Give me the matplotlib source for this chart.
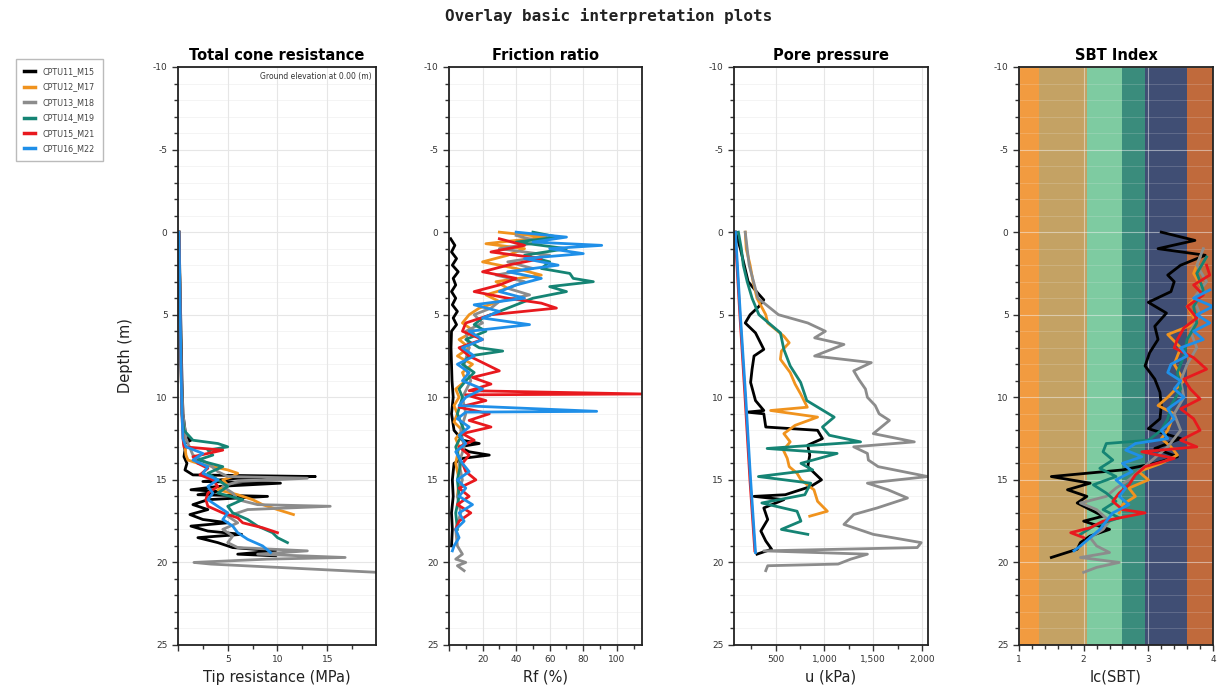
import numpy as np
import matplotlib
matplotlib.use("Agg")
import matplotlib.pyplot as plt
from matplotlib.ticker import MultipleLocator, FuncFormatter

plt.rcParams["axes.unicode_minus"] = False

# soundings and colours
names = ["CPTU11_M15", "CPTU12_M17", "CPTU13_M18", "CPTU14_M19", "CPTU15_M21", "CPTU16_M22"]
colors = ["#000000", "#F0931E", "#8C8C8C", "#158474", "#E8191E", "#1F8FE8"]

# total cone resistance (MPa)
qt_d_11 = [0, 3, 6, 9, 11, 12.4, 12.6, 12.8, 13.2, 13.6, 14.0, 14.4, 14.7, 14.8, 14.9, 15.1, 15.2, 15.4, 15.6, 15.7, 15.9, 16.0, 16.2, 16.5, 16.8, 17.1, 17.4, 17.6, 17.8, 18.1, 18.3, 18.5, 18.8, 19.1, 19.3, 19.5, 19.6]
qt_11 = [0.1, 0.2, 0.3, 0.4, 0.5, 0.8, 1.3, 0.6, 0.7, 0.6, 0.9, 0.7, 1.5, 13.8, 6.0, 2.5, 10.3, 4.0, 1.3, 4.1, 2.0, 9.0, 3.0, 1.5, 3.0, 1.2, 2.5, 5.0, 1.3, 3.0, 6.4, 2.0, 4.0, 5.5, 9.8, 6.0, 9.8]
qt_d_12 = [0, 4, 8, 11, 12.5, 13.0, 13.5, 13.8, 14.0, 14.2, 14.4, 14.6, 14.8, 15.0, 15.3, 15.6, 15.9, 16.2, 16.5, 16.8, 17.1]
qt_12 = [0.1, 0.2, 0.3, 0.4, 0.6, 0.7, 0.8, 1.0, 2.0, 3.5, 5.0, 6.0, 5.5, 4.5, 5.0, 4.0, 6.0, 7.5, 8.5, 10.0, 11.6]
qt_d_13 = [0, 4, 8, 11, 12.5, 13.5, 14.0, 14.5, 14.8, 14.9, 15.1, 15.4, 15.8, 16.2, 16.5, 16.6, 16.8, 17.2, 17.6, 18.0, 18.4, 18.8, 19.1, 19.3, 19.5, 19.7, 19.8, 20.0, 20.1, 20.3, 20.6]
qt_13 = [0.1, 0.2, 0.3, 0.5, 0.8, 1.5, 3.0, 4.0, 5.0, 13.0, 6.0, 4.5, 5.5, 6.0, 8.0, 15.3, 7.0, 5.0, 6.0, 4.5, 5.5, 5.0, 6.0, 13.0, 8.0, 16.8, 9.0, 1.6, 3.3, 10.0, 20.0]
qt_d_14 = [0, 4, 8, 11, 12.0, 12.6, 12.8, 13.0, 13.2, 13.5, 13.8, 14.2, 14.6, 15.0, 15.4, 15.8, 16.2, 16.6, 17.0, 17.4, 17.8, 18.2, 18.5, 18.8]
qt_14 = [0.1, 0.2, 0.3, 0.4, 0.6, 1.5, 4.0, 5.0, 3.0, 3.5, 2.0, 4.5, 3.0, 4.0, 5.0, 4.0, 6.5, 5.0, 5.5, 7.0, 8.0, 9.5, 10.0, 11.0]
qt_d_15 = [0, 4, 8, 11, 12.5, 13.0, 13.2, 13.6, 14.0, 14.3, 14.7, 15.0, 15.4, 15.8, 16.2, 16.6, 17.0, 17.3, 17.6, 17.9, 18.2]
qt_15 = [0.1, 0.2, 0.3, 0.4, 0.5, 0.6, 4.5, 1.5, 2.0, 3.0, 2.2, 3.5, 4.0, 3.0, 2.8, 3.0, 4.5, 6.0, 6.5, 8.5, 10.0]
qt_d_16 = [0, 4, 8, 11, 12.5, 13.0, 13.4, 13.8, 14.2, 14.6, 15.0, 15.4, 15.8, 16.2, 16.6, 17.0, 17.4, 17.8, 18.2, 18.6, 19.0, 19.4]
qt_16 = [0.1, 0.2, 0.3, 0.4, 0.5, 0.8, 2.5, 1.5, 3.0, 2.5, 4.0, 3.0, 3.5, 3.0, 4.0, 5.0, 4.5, 5.5, 6.0, 7.0, 8.5, 9.3]

# friction ratio (%)
rf_d_11 = [0.4, 0.8, 1.2, 1.6, 2.0, 2.4, 2.8, 3.2, 3.6, 4.0, 4.4, 4.8, 5.2, 5.6, 6.0, 7, 8, 9, 10, 11, 12, 12.6, 12.8, 13.0, 13.3, 13.5, 13.7, 14, 15, 16, 17, 18, 19]
rf_11 = [1.0, 3.5, 1.5, 4.5, 2.0, 5.5, 2.5, 4.0, 1.5, 4.0, 2.0, 5.0, 2.5, 4.5, 1.5, 1.2, 1.5, 1.8, 2.5, 1.5, 3.0, 8.0, 18.0, 6.0, 12.0, 24.0, 8.0, 3.0, 2.0, 2.5, 1.5, 2.0, 1.5]
rf_d_12 = [0, 0.3, 0.7, 1.0, 1.4, 1.8, 2.2, 2.6, 3.0, 3.4, 3.8, 4.2, 4.6, 5.0, 5.5, 6.0, 6.5, 7.0, 7.5, 8.0, 8.5, 9.0, 9.5, 10.0, 10.5, 11.0, 11.5, 12.0, 12.5, 13.0, 13.5, 14, 15, 16]
rf_12 = [30, 58, 22, 45, 35, 20, 40, 55, 28, 35, 22, 30, 18, 12, 8, 15, 6, 12, 5, 14, 8, 10, 4, 6, 3, 5, 3, 8, 4, 6, 5, 4, 6, 5]
rf_d_13 = [0.2, 0.6, 1.0, 1.4, 1.8, 2.2, 2.6, 3.0, 3.4, 3.8, 4.2, 4.6, 5.0, 5.5, 6.0, 7.0, 8.0, 9.0, 10.0, 11.0, 12.0, 13.0, 14.0, 15.0, 16.0, 17.0, 18.0, 19.0, 19.5, 19.8, 20.0, 20.2, 20.5]
rf_13 = [40, 55, 30, 60, 35, 50, 28, 45, 35, 48, 30, 25, 15, 20, 10, 12, 9, 13, 8, 10, 7, 9, 6, 8, 5, 7, 4, 5, 8, 4, 10, 5, 9]
rf_d_14 = [0, 0.3, 0.6, 1.0, 1.4, 1.8, 2.2, 2.5, 2.8, 3.0, 3.3, 3.6, 4.0, 4.4, 4.8, 5.2, 5.6, 6.0, 6.5, 7.0, 7.2, 7.5, 8.0, 8.5, 9.0, 9.5, 10, 11, 12, 13, 14, 15, 16, 17, 18]
rf_14 = [50, 65, 40, 70, 45, 60, 55, 72, 74, 86, 60, 70, 50, 40, 30, 20, 15, 22, 10, 18, 32, 12, 8, 15, 10, 6, 8, 5, 9, 4, 7, 5, 6, 4, 5]
rf_d_15 = [0.4, 0.8, 1.2, 1.6, 2.0, 2.4, 2.8, 3.2, 3.6, 4.0, 4.3, 4.6, 5.0, 5.5, 6.0, 6.5, 7.0, 7.5, 8.0, 8.4, 8.8, 9.2, 9.6, 9.8, 9.85, 10.2, 10.6, 11.0, 11.4, 11.8, 12.2, 12.6, 13.0, 13.5, 14.0, 14.5, 15.0, 15.5, 16.0, 16.5, 17.0, 17.5, 18.0]
rf_15 = [30, 45, 25, 55, 35, 20, 40, 30, 15, 35, 55, 64, 25, 10, 8, 20, 6, 12, 22, 30, 14, 25, 12, 115, 10, 22, 6, 24, 12, 25, 8, 15, 6, 12, 8, 10, 16, 6, 12, 5, 13, 6, 4]
rf_d_16 = [0, 0.3, 0.6, 0.8, 1.0, 1.3, 1.6, 2.0, 2.4, 2.8, 3.2, 3.6, 4.0, 4.4, 4.8, 5.2, 5.6, 6.0, 6.5, 7.0, 7.5, 8.0, 8.5, 9.0, 9.5, 10.0, 10.5, 10.85, 10.9, 11.3, 11.8, 12.3, 12.8, 13.3, 14, 14.5, 15, 15.5, 16, 16.5, 17, 17.5, 18, 18.5, 19, 19.3]
rf_16 = [40, 70, 50, 91, 60, 80, 45, 65, 35, 55, 40, 30, 45, 15, 30, 20, 48, 12, 20, 8, 15, 5, 12, 8, 20, 10, 6, 88, 10, 5, 12, 6, 10, 4, 8, 12, 5, 10, 6, 14, 6, 9, 4, 6, 3, 2]

# pore pressure (kPa)
u_d_11 = [0, 1, 2, 3, 3.5, 4.1, 4.5, 5.0, 5.5, 6.1, 7.1, 7.5, 8.3, 9.1, 10.2, 10.8, 10.9, 11.0, 11.8, 12.0, 12.5, 12.9, 13.5, 14.2, 15.0, 15.4, 15.9, 16.0, 16.2, 16.7, 17.4, 18.1, 18.7, 19.2, 19.5]
u_11 = [90, 140, 180, 220, 290, 380, 330, 240, 190, 295, 380, 280, 260, 245, 295, 380, 210, 380, 400, 930, 980, 830, 850, 830, 970, 860, 600, 280, 585, 380, 420, 350, 400, 460, 310]
u_d_12 = [0, 1, 2, 3, 4, 5, 5.5, 6.3, 6.7, 7.2, 7.7, 8.5, 9.2, 9.8, 10.6, 10.8, 11.2, 11.7, 12.2, 12.7, 13.2, 13.7, 14.2, 14.6, 15.0, 15.6, 16.3, 16.9, 17.2]
u_12 = [190, 200, 240, 270, 310, 400, 420, 585, 640, 560, 550, 650, 700, 757, 825, 450, 930, 700, 585, 650, 580, 620, 640, 720, 760, 893, 930, 1030, 850]
u_d_13 = [0, 2, 4, 5, 5.5, 6.0, 6.4, 6.8, 7.5, 7.9, 8.4, 8.9, 9.5, 10.0, 10.5, 11.0, 11.4, 12.2, 12.7, 13.0, 13.4, 13.8, 14.2, 14.8, 15.2, 15.6, 16.1, 16.7, 17.1, 17.7, 18.3, 18.8, 19.1, 19.3, 19.5, 19.8, 20.1, 20.2, 20.5]
u_13 = [190, 230, 320, 530, 830, 1010, 900, 1200, 900, 1480, 1300, 1350, 1420, 1440, 1520, 1560, 1665, 1500, 1920, 1300, 1440, 1450, 1550, 2057, 1440, 1650, 1850, 1540, 1300, 1200, 1500, 1990, 1950, 380, 1440, 1270, 1140, 420, 400]
u_d_14 = [0, 1, 2, 3, 4, 5, 6.1, 7.1, 8.1, 9.1, 10.2, 11.2, 11.8, 12.3, 12.7, 13.1, 13.4, 14.0, 14.4, 14.8, 15.2, 15.9, 16.4, 16.9, 17.5, 18.0, 18.3]
u_14 = [120, 150, 170, 210, 260, 330, 550, 585, 650, 757, 820, 1100, 980, 1050, 1370, 414, 1130, 760, 880, 325, 860, 800, 360, 720, 760, 560, 830]
u_d_15 = [0, 5, 10, 15, 19.3]
u_15 = [85, 135, 188, 238, 288]
u_d_16 = [0, 5, 10, 15, 19.4]
u_16 = [90, 140, 195, 245, 295]

# SBT index Ic
ic_d_11 = [0.0, 0.5, 1.0, 1.4, 2.0, 2.6, 3.0, 3.6, 4.25, 4.9, 5.7, 6.5, 7.3, 8.1, 8.9, 9.7, 10.5, 11.3, 11.9, 12.5, 13.1, 13.6, 14.0, 14.4, 14.8, 15.2, 15.6, 16.0, 16.4, 16.8, 17.2, 17.5, 18.0, 18.4, 18.8, 19.2, 19.7]
ic_11 = [3.2, 3.72, 3.15, 3.88, 3.5, 3.3, 3.4, 3.35, 3.0, 3.28, 3.1, 3.15, 3.02, 2.95, 3.1, 3.18, 3.2, 3.18, 3.0, 3.5, 3.1, 3.45, 3.1, 2.6, 1.5, 2.1, 1.75, 2.05, 1.9, 2.1, 2.3, 2.0, 2.4, 2.1, 1.95, 1.9, 1.5]
ic_d_12 = [1.5, 2.5, 3.5, 4.5, 5.5, 6.2, 7.0, 8.0, 9.0, 10.0, 10.5, 11.0, 12.0, 12.5, 13.0, 13.5, 14.0, 14.5, 15.0, 15.5, 16.0, 16.5, 17.0]
ic_12 = [3.8, 3.7, 3.85, 3.6, 3.75, 3.3, 3.5, 3.4, 3.55, 3.3, 3.15, 3.4, 3.3, 3.2, 3.35, 3.45, 3.2, 2.85, 3.0, 2.7, 2.8, 2.6, 2.55]
ic_d_13 = [1.0, 2.0, 3.0, 4.0, 5.0, 6.0, 7.0, 8.0, 9.0, 10.0, 11.0, 12.0, 13.0, 14.0, 15.0, 15.5, 16.0, 16.4, 16.8, 17.5, 18.0, 18.5, 19.0, 19.4, 19.7, 20.0, 20.3, 20.6]
ic_13 = [3.85, 3.75, 3.9, 3.7, 3.8, 3.65, 3.75, 3.6, 3.5, 3.55, 3.4, 3.5, 3.3, 3.0, 2.7, 2.5, 2.35, 1.95, 2.2, 2.4, 2.3, 2.1, 2.2, 2.4, 1.95, 2.55, 2.2, 2.0]
ic_d_14 = [1.5, 2.5, 3.5, 4.5, 5.5, 6.5, 7.5, 8.5, 9.5, 10.5, 11.3, 12.0, 12.6, 12.8, 13.3, 13.8, 14.3, 14.8, 15.3, 15.8, 16.3, 16.8, 17.3, 17.8, 18.3]
ic_14 = [3.9, 3.75, 3.85, 3.7, 3.75, 3.6, 3.55, 3.45, 3.5, 3.35, 3.3, 3.2, 3.0, 2.35, 2.3, 2.45, 2.25, 2.5, 2.15, 2.35, 2.5, 2.3, 2.55, 2.15, 1.95]
ic_d_15 = [2.0, 2.6, 3.2, 3.8, 4.5, 5.2, 5.8, 6.5, 7.0, 7.6, 8.3, 8.9, 9.5, 10.1, 10.7, 11.3, 12.0, 12.6, 13.0, 13.3, 13.7, 14.2, 14.7, 15.3, 15.8, 16.3, 16.8, 17.0, 17.5, 17.9, 18.2, 18.5]
ic_15 = [3.9, 3.95, 3.7, 3.85, 3.6, 3.75, 3.55, 3.45, 3.4, 3.7, 3.9, 3.55, 3.65, 3.8, 3.5, 3.7, 3.8, 3.5, 3.75, 2.9, 3.4, 2.95, 2.8, 2.7, 2.55, 2.45, 2.6, 2.95, 2.3, 2.1, 1.8, 2.0]
ic_d_16 = [3.5, 4.0, 4.5, 5.0, 5.5, 6.0, 6.5, 7.0, 7.5, 8.0, 8.5, 9.0, 9.5, 10.0, 10.7, 11.3, 12.0, 12.5, 12.8, 13.2, 13.6, 14.0, 14.5, 15.0, 15.5, 16.0, 16.5, 17.0, 17.5, 18.0, 18.5, 19.0, 19.3]
ic_16 = [3.95, 3.7, 4.0, 3.75, 3.95, 3.7, 3.85, 3.5, 3.6, 3.35, 3.3, 3.5, 3.4, 3.55, 3.3, 3.4, 3.2, 3.3, 2.8, 2.65, 2.9, 2.6, 2.75, 2.5, 2.65, 2.55, 2.7, 2.45, 2.35, 2.25, 2.1, 1.95, 1.85]

# SBT zone boundaries and colours
sbt_edges = [1.0, 1.31, 2.05, 2.6, 2.95, 3.6, 4.0]
sbt_colors = ["#F29B40", "#C4A264", "#7ECBA1", "#3A8C7C", "#404E74", "#C06A3C"]

fig = plt.figure(figsize=(12.17, 6.88), dpi=100)
W, H = 1217, 688
lefts = [178, 449, 734, 1019]
widths = [198, 193, 194, 194]
axes = [fig.add_axes([l / W, 1 - 645 / H, w / W, (645 - 67) / H]) for l, w in zip(lefts, widths)]

panels = [
    ("Total cone resistance", "Tip resistance (MPa)",
     [(qt_d_11, qt_11), (qt_d_12, qt_12), (qt_d_13, qt_13), (qt_d_14, qt_14), (qt_d_15, qt_15), (qt_d_16, qt_16)],
     (0, 19.9), 5, 2.5),
    ("Friction ratio", "Rf (%)",
     [(rf_d_11, rf_11), (rf_d_12, rf_12), (rf_d_13, rf_13), (rf_d_14, rf_14), (rf_d_15, rf_15), (rf_d_16, rf_16)],
     (0, 115), 20, 10),
    ("Pore pressure", "u (kPa)",
     [(u_d_11, u_11), (u_d_12, u_12), (u_d_13, u_13), (u_d_14, u_14), (u_d_15, u_15), (u_d_16, u_16)],
     (75, 2060), 500, 250),
    ("SBT Index", "Ic(SBT)",
     [(ic_d_11, ic_11), (ic_d_12, ic_12), (ic_d_13, ic_13), (ic_d_14, ic_14), (ic_d_15, ic_15), (ic_d_16, ic_16)],
     (1, 4), 1, 0.2),
]

for i, (ax, (title, xlabel, series, xlim, major, minor)) in enumerate(zip(axes, panels)):
    if i == 3:
        for k in range(len(sbt_colors)):
            ax.axvspan(sbt_edges[k], sbt_edges[k + 1], color=sbt_colors[k], lw=0, zorder=0.5)
    for (d, v), c, n in zip(series, colors, names):
        ax.plot(v, d, color=c, lw=2.0, label=n, zorder=2)
    ax.set_xlim(*xlim)
    ax.set_ylim(25, -10)
    ax.set_title(title, fontsize=10.5, fontweight="bold", pad=5)
    ax.set_xlabel(xlabel, fontsize=10.5, color="#222222", labelpad=4)
    ax.xaxis.set_major_locator(MultipleLocator(major))
    ax.xaxis.set_minor_locator(MultipleLocator(minor))
    ax.yaxis.set_major_locator(MultipleLocator(5))
    ax.yaxis.set_minor_locator(MultipleLocator(1))
    gcol = "#f2f2f2" if i == 3 else "#e6e6e6"
    ax.grid(True, which="major", color=gcol, lw=0.8, alpha=0.5 if i == 3 else 1)
    ax.grid(True, which="minor", axis="y", color=gcol, lw=0.5, alpha=0.25 if i == 3 else 0.6)
    ax.tick_params(which="major", labelsize=6.5, length=4, width=1, colors="#333333")
    ax.tick_params(which="minor", length=3, width=1, colors="#333333")
    for s in ax.spines.values():
        s.set_linewidth(1.3)
        s.set_color("#222222")

# tick label formats
axes[0].xaxis.set_major_formatter(FuncFormatter(lambda x, p: "" if x <= 0 else f"{x:g}"))
axes[1].xaxis.set_major_formatter(FuncFormatter(lambda x, p: "" if x <= 0 else f"{x:g}"))
axes[2].xaxis.set_major_formatter(FuncFormatter(lambda x, p: f"{x:,.0f}"))
axes[3].xaxis.set_major_formatter(FuncFormatter(lambda x, p: f"{x:g}"))

axes[0].set_ylabel("Depth (m)", fontsize=10.5, color="#222222", labelpad=14)
axes[0].text(0.98, 0.992, "Ground elevation at 0.00 (m)", transform=axes[0].transAxes,
             ha="right", va="top", fontsize=5.5, color="#333333")

fig.text(0.5, 1 - 16 / H, "Overlay basic interpretation plots", ha="center", va="center",
         fontsize=11.5, fontweight="bold", family="DejaVu Sans Mono", color="#222222")

handles, labels = axes[0].get_legend_handles_labels()
leg = fig.legend(handles, labels, loc="upper left", bbox_to_anchor=(12 / W, 1 - 55 / H),
                 fontsize=5.8, handlelength=1.3, handletextpad=1.0, labelspacing=0.8,
                 frameon=True, fancybox=False, edgecolor="#aaaaaa", borderpad=1.0)
leg.get_frame().set_linewidth(1.0)
for t in leg.get_texts():
    t.set_color("#444444")
for h in leg.legend_handles:
    h.set_linewidth(2.5)

fig.savefig("out.png", dpi=100)
